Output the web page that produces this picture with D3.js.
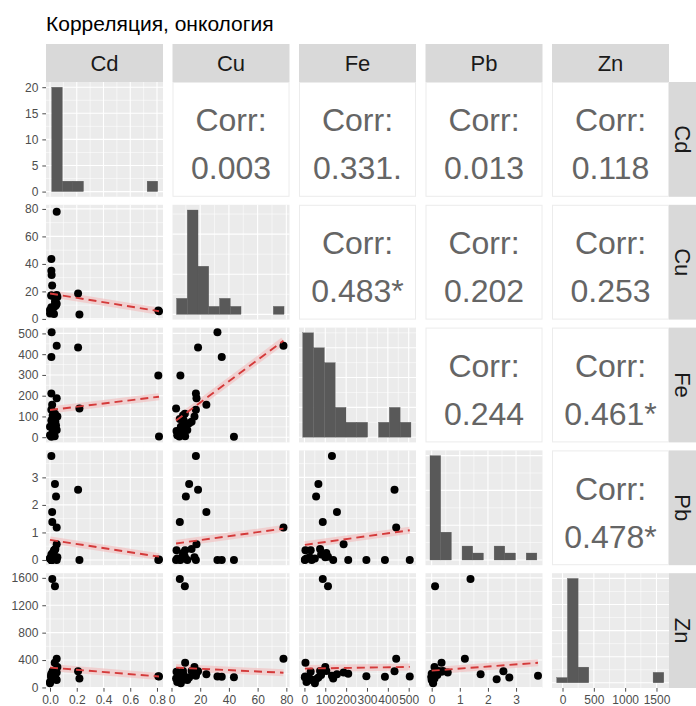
<!DOCTYPE html>
<html>
<head>
<meta charset="utf-8">
<script src="https://cdn.jsdelivr.net/npm/d3@7"></script>
<style>
  body { margin: 0; background: #fff; }
  text { font-family: "Liberation Sans", Arial, sans-serif; }
</style>
</head>
<body>
<div id="chart"></div>
<script>
// variables and one value per sample
var vars = ["Cd", "Cu", "Fe", "Pb", "Zn"];
var cd = [0.05, 0.01, 0.017, 0.037, 0.21, 0.22, 0.01, 0.81, 0.815, 0.012, 0.01, 0.037, 0.045, 0.016, 0.05, 0.035, 0.01, 0.0, 0.02, 0.03, 0.05, 0.01, 0.04, 0.0, 0.02, 0.055];
var cu = [78, 17, 5.8, 9.3, 18.5, 3.2, 43.5, 6.2, 5.5, 32, 35, 12.3, 10, 24.3, 17.4, 9.5, 17, 4, 7.5, 3.5, 11, 8.5, 14, 6.5, 8, 16];
var fe = [440, 132, 88, 113, 432, 138, 2, 297, 4, 505, 386, 67, 56, 156, 188, 5, 210, 10, 25, 30, 35, 80, 75, 50, 105, 100];
var pb = [1.18, 3.78, 1.38, 0.12, 2.55, 0.0, 0.0, 0.0, 0.02, 0.0, 0.0, 2.76, 2.31, 1.74, 0.57, 0.35, 0.0, 0.05, 0.1, 0.35, 0.0, 0.2, 0.4, 0.05, 0.25, 0.1];
var zn = [420, 170, 1585, 1477, 235, 130, 150, 165, 160, 160, 155, 145, 121, 193, 220, 360, 200, 80, 130, 230, 110, 180, 240, 60, 240, 300];

// histogram counts on the diagonal (10 bins each)
var cdHist = [20, 2, 2, 0, 0, 0, 0, 0, 0, 2];
var cuHist = [2, 13, 6, 1, 2, 1, 0, 0, 0, 1];
var feHist = [7, 6, 5, 2, 1, 1, 0, 1, 2, 1];
var pbHist = [15, 4, 0, 2, 1, 0, 2, 1, 0, 1];
var znHist = [1, 20, 3, 0, 0, 0, 0, 0, 0, 2];
var histStart = [0.0127, 3.5, -8.2, -0.06, -93];
var histWidth = [0.0793, 7.49, 51.9, 0.38, 171];

// upper triangle: (Cd,Cu) (Cd,Fe) (Cd,Pb) (Cd,Zn) (Cu,Fe) (Cu,Pb) (Cu,Zn) (Fe,Pb) (Fe,Zn) (Pb,Zn)
var corrLabels = ["0.003", "0.331.", "0.013", "0.118", "0.483*", "0.202", "0.253", "0.244", "0.461*", "0.478*"];

// lower triangle fitted lines, y at min x and y at max x
// order: Cu~Cd, Fe~Cd, Fe~Cu, Pb~Cd, Pb~Cu, Pb~Fe, Zn~Cd, Zn~Cu, Zn~Fe, Zn~Pb
var fitFrom = [18.5, 131, 80, 0.73, 0.6, 0.55, 290, 290, 275, 245];
var fitTo = [5.6, 195, 465, 0.12, 1.14, 1.08, 160, 215, 300, 360];

// axis ticks
var xTicks = [[0, 0.2, 0.4, 0.6, 0.8], [0, 20, 40, 60, 80], [0, 100, 200, 300, 400, 500], [0, 1, 2, 3], [0, 500, 1000, 1500]];
var yTicks = [[0, 5, 10, 15, 20], [0, 20, 40, 60, 80], [0, 100, 200, 300, 400, 500], [0, 1, 2, 3], [0, 400, 800, 1200, 1600]];

var cols = [cd, cu, fe, pb, zn];
var hists = [cdHist, cuHist, feHist, pbHist, znHist];

// layout
var chartW = 696, chartH = 706;
var colLeft = 46, colStep = 126.5, panelW = 117;
var rowTop = 82, rowStep = 122.8, panelH = 114.8;
var stripH = 38, stripW = 28;

var xDomains = [[-0.03, 0.845], [0.7, 82.2], [-26, 535], [-0.22, 3.94], [-168, 1700]];
var yDomains = [null, [-0.5, 83], [-25, 528], [-0.19, 3.98], [-8, 1668]];

var svg = d3.select("#chart")
    .append("svg")
    .attr("width", chartW)
    .attr("height", chartH);

svg.append("text")
    .attr("x", 46)
    .attr("y", 31)
    .style("font-size", "21px")
    .style("fill", "#000")
    .text("Корреляция, онкология");

var xScales = vars.map(function(v, i) {
  var px = colLeft + i * colStep;
  return d3.scaleLinear().domain(xDomains[i]).range([px, px + panelW]);
});
var yScales = vars.map(function(v, j) {
  var py = rowTop + j * rowStep;
  if (j === 0) {
    var m = d3.max(cdHist);
    return d3.scaleLinear().domain([-0.05 * m, 1.05 * m]).range([py + panelH, py]);
  }
  return d3.scaleLinear().domain(yDomains[j]).range([py + panelH, py]);
});

function minors(ticks, domain) {
  var step = ticks[1] - ticks[0];
  var out = [ticks[0] - step / 2];
  ticks.forEach(function(t) { out.push(t + step / 2); });
  return out.filter(function(d) { return d >= domain[0] && d <= domain[1]; });
}

function drawGrid(g, x, y, xt, yt) {
  var xd = x.domain(), yd = y.domain();
  g.append("rect")
      .attr("x", x.range()[0]).attr("y", y.range()[1])
      .attr("width", panelW).attr("height", panelH)
      .style("fill", "#ebebeb");
  g.selectAll(".vminor").data(minors(xt, xd)).enter().append("line")
      .attr("x1", function(d) { return x(d); }).attr("x2", function(d) { return x(d); })
      .attr("y1", y.range()[0]).attr("y2", y.range()[1])
      .style("stroke", "#fff").style("stroke-width", 0.55);
  g.selectAll(".hminor").data(minors(yt, yd)).enter().append("line")
      .attr("y1", function(d) { return y(d); }).attr("y2", function(d) { return y(d); })
      .attr("x1", x.range()[0]).attr("x2", x.range()[1])
      .style("stroke", "#fff").style("stroke-width", 0.55);
  g.selectAll(".vmajor").data(xt.filter(function(d) { return d >= xd[0] && d <= xd[1]; })).enter().append("line")
      .attr("x1", function(d) { return x(d); }).attr("x2", function(d) { return x(d); })
      .attr("y1", y.range()[0]).attr("y2", y.range()[1])
      .style("stroke", "#fff").style("stroke-width", 1.1);
  g.selectAll(".hmajor").data(yt.filter(function(d) { return d >= yd[0] && d <= yd[1]; })).enter().append("line")
      .attr("y1", function(d) { return y(d); }).attr("y2", function(d) { return y(d); })
      .attr("x1", x.range()[0]).attr("x2", x.range()[1])
      .style("stroke", "#fff").style("stroke-width", 1.1);
}

var fitIndex = 0, corrIndex = 0;

for (var r = 0; r < 5; r++) {
  for (var c = 0; c < 5; c++) {
    var g = svg.append("g");
    var x = xScales[c];
    var px = colLeft + c * colStep, py = rowTop + r * rowStep;

    if (r === c) {
      // histogram
      var counts = hists[c];
      var maxC = d3.max(counts);
      var hy = d3.scaleLinear().domain([-0.05 * maxC, 1.05 * maxC]).range([py + panelH, py]);
      var bins = counts.map(function(n, k) {
        return {x0: histStart[c] + k * histWidth[c], x1: histStart[c] + (k + 1) * histWidth[c], n: n};
      });
      drawGrid(g, x, hy, xTicks[c], r === 0 ? yTicks[0] : hy.ticks(4));
      g.selectAll(".bar").data(bins.filter(function(b) { return b.n > 0; })).enter().append("rect")
          .attr("x", function(b) { return x(b.x0); })
          .attr("width", function(b) { return x(b.x1) - x(b.x0); })
          .attr("y", function(b) { return hy(b.n); })
          .attr("height", function(b) { return hy(0) - hy(b.n); })
          .style("fill", "#595959")
          .style("stroke", "#595959")
          .style("stroke-width", 0.3);
    } else if (r < c) {
      // correlation text
      g.append("rect")
          .attr("x", px + 0.5).attr("y", py + 0.5)
          .attr("width", panelW - 1).attr("height", panelH - 1)
          .style("fill", "#fff").style("stroke", "#ececec");
      var cx = px + panelW / 2, cy = py + panelH / 2;
      g.append("text")
          .attr("x", cx).attr("y", cy - 8)
          .attr("text-anchor", "middle")
          .style("font-size", "32px").style("fill", "#656565")
          .text("Corr:");
      g.append("text")
          .attr("x", cx).attr("y", cy + 40)
          .attr("text-anchor", "middle")
          .style("font-size", "32px").style("fill", "#656565")
          .text(corrLabels[corrIndex++]);
    } else {
      // scatter with fitted line
      var y = yScales[r];
      drawGrid(g, x, y, xTicks[c], yTicks[r]);
      var xs = cols[c], ys = cols[r];
      var fit = [[d3.min(xs), fitFrom[fitIndex]], [d3.max(xs), fitTo[fitIndex]]];
      fitIndex++;
      g.append("line")
          .attr("x1", x(fit[0][0])).attr("y1", y(fit[0][1]))
          .attr("x2", x(fit[1][0])).attr("y2", y(fit[1][1]))
          .style("stroke", "#f2c4c4").style("stroke-width", 7).style("opacity", 0.7);
      g.selectAll(".dot").data(xs.map(function(v, k) { return [v, ys[k]]; })).enter().append("circle")
          .attr("r", 4)
          .attr("cx", function(d) { return x(d[0]); })
          .attr("cy", function(d) { return y(d[1]); })
          .style("fill", "#000");
      g.append("line")
          .attr("x1", x(fit[0][0])).attr("y1", y(fit[0][1]))
          .attr("x2", x(fit[1][0])).attr("y2", y(fit[1][1]))
          .style("stroke", "#d43a3a").style("stroke-width", 1.9)
          .style("stroke-dasharray", "8,5");
    }
  }
}

// top strips
vars.forEach(function(v, i) {
  var sx = colLeft + i * colStep;
  svg.append("rect")
      .attr("x", sx).attr("y", rowTop - stripH)
      .attr("width", panelW).attr("height", stripH)
      .style("fill", "#d9d9d9");
  svg.append("text")
      .attr("x", sx + panelW / 2).attr("y", rowTop - stripH / 2 + 8)
      .attr("text-anchor", "middle")
      .style("font-size", "22px").style("fill", "#1a1a1a")
      .text(v);
});

// right strips
vars.forEach(function(v, j) {
  var sy = rowTop + j * rowStep;
  var sx = colLeft + 4 * colStep + panelW;
  svg.append("rect")
      .attr("x", sx).attr("y", sy)
      .attr("width", stripW).attr("height", panelH)
      .style("fill", "#d9d9d9");
  svg.append("text")
      .attr("transform", "translate(" + (sx + stripW / 2 - 8) + "," + (sy + panelH / 2) + ") rotate(90)")
      .attr("text-anchor", "middle")
      .style("font-size", "22px").style("fill", "#1a1a1a")
      .text(v);
});

// bottom axes
vars.forEach(function(v, i) {
  var bottom = rowTop + 4 * rowStep + panelH;
  var ax = d3.axisBottom(xScales[i])
      .tickValues(xTicks[i])
      .tickSize(3.7)
      .tickPadding(4)
      .tickFormat(i === 0 ? d3.format(".1f") : d3.format("d"));
  var a = svg.append("g")
      .attr("transform", "translate(0," + bottom + ")")
      .call(ax);
  a.select(".domain").remove();
  a.selectAll("line").style("stroke", "#4d4d4d").style("stroke-width", 1);
  a.selectAll("text").style("font-size", "12px").style("fill", "#4d4d4d")
      .style("font-family", "'Liberation Sans', Arial, sans-serif");
});

// left axes
vars.forEach(function(v, j) {
  var ay = d3.axisLeft(yScales[j])
      .tickValues(yTicks[j])
      .tickSize(3.7)
      .tickPadding(4)
      .tickFormat(d3.format("d"));
  var a = svg.append("g")
      .attr("transform", "translate(" + colLeft + ",0)")
      .call(ay);
  a.select(".domain").remove();
  a.selectAll("line").style("stroke", "#4d4d4d").style("stroke-width", 1);
  a.selectAll("text").style("font-size", "12px").style("fill", "#4d4d4d")
      .style("font-family", "'Liberation Sans', Arial, sans-serif");
});
</script>
</body>
</html>
